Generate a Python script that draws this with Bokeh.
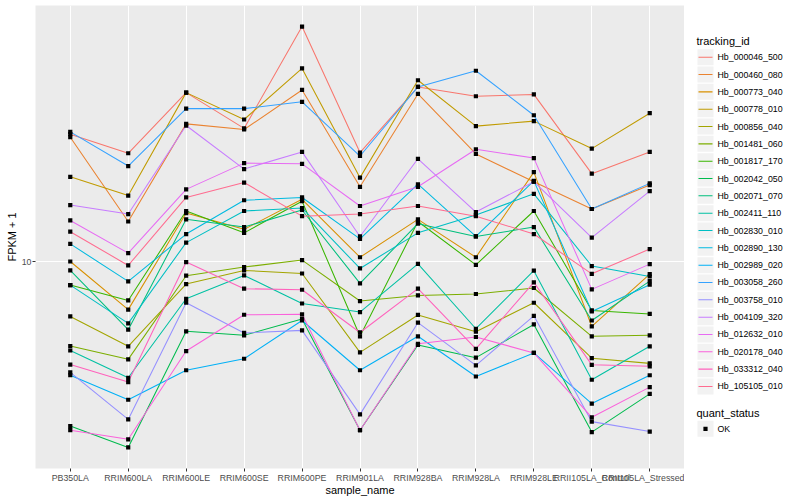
import math
from bokeh.plotting import figure
from bokeh.models import Range1d, FactorRange, FixedTicker, BasicTickFormatter
from bokeh.layouts import row
from bokeh.embed import file_html
from bokeh.resources import INLINE
from bokeh.core.properties import value

samples = ["PB350LA", "RRIM600LA", "RRIM600LE", "RRIM600SE", "RRIM600PE", "RRIM901LA",
           "RRIM928BA", "RRIM928LA", "RRIM928LE", "RRII105LA_Control", "RRII105LA_Stressed"]

tracking_ids = ["Hb_000046_500", "Hb_000460_080", "Hb_000773_040", "Hb_000778_010", "Hb_000856_040",
                "Hb_001481_060", "Hb_001817_170", "Hb_002042_050", "Hb_002071_070", "Hb_002411_110",
                "Hb_002830_010", "Hb_002890_130", "Hb_002989_020", "Hb_003058_260", "Hb_003758_010",
                "Hb_004109_320", "Hb_012632_010", "Hb_020178_040", "Hb_033312_040", "Hb_105105_010"]

colors = ["#F8766D", "#EA8331", "#D89000", "#C09B00", "#A3A500", "#7CAE00", "#39B600", "#00BB4E",
          "#00BF7D", "#00C1A3", "#00BFC4", "#00BAE0", "#00B0F6", "#35A2FF", "#9590FF", "#C77CFF",
          "#E76BF3", "#FA62DB", "#FF62BC", "#FF6C90"]

# FPKM + 1 values, one list per gene, in the order of `samples`
hb_000046_500 = [24.2, 21.2, 32.3, 25.2, 51.1, 21.3, 33.6, 31.5, 31.9, 18.4, 21.4]
hb_000460_080 = [23.7, 13.2, 26.0, 25.0, 32.9, 16.8, 32.0, 21.1, 17.4, 14.4, 17.0]
hb_000773_040 = [10.0, 7.16, 14.0, 12.5, 15.4, 10.3, 13.4, 10.3, 18.6, 6.37, 9.16]
hb_000778_010 = [18.0, 15.8, 32.3, 26.8, 38.2, 17.9, 35.2, 25.6, 26.5, 21.9, 28.0]
hb_000856_040 = [6.83, 5.55, 8.55, 9.40, 9.20, 5.32, 6.90, 6.14, 7.51, 5.11, 4.93]
hb_001481_060 = [5.56, 5.07, 9.06, 9.62, 10.1, 7.60, 7.90, 7.98, 8.32, 5.95, 5.99]
hb_001817_170 = [8.49, 7.63, 14.2, 12.2, 15.2, 5.95, 13.2, 9.77, 14.2, 7.12, 6.95]
hb_002042_050 = [3.19, 2.75, 6.16, 5.99, 6.71, 3.10, 5.60, 5.13, 6.46, 3.06, 3.99]
hb_002071_070 = [9.40, 6.23, 13.4, 12.7, 14.3, 8.59, 13.0, 11.9, 12.7, 6.64, 8.73]
hb_002411_110 = [5.39, 4.46, 7.72, 9.08, 7.47, 7.04, 9.84, 6.27, 9.38, 4.40, 5.55]
hb_002830_010 = [8.49, 6.51, 11.4, 14.2, 14.5, 9.53, 12.2, 13.8, 16.0, 9.69, 9.01]
hb_002890_130 = [11.3, 8.71, 12.1, 15.3, 15.6, 11.7, 17.1, 11.9, 17.5, 7.07, 8.51]
hb_002989_020 = [4.54, 3.83, 4.70, 5.09, 6.64, 4.70, 5.95, 4.50, 5.30, 3.73, 4.54]
hb_003058_260 = [24.6, 19.4, 28.9, 28.9, 30.3, 20.8, 33.6, 37.6, 27.6, 14.4, 17.2]
hb_003758_010 = [4.63, 3.34, 7.51, 6.09, 6.20, 3.46, 6.54, 4.86, 6.86, 3.29, 3.07]
hb_004109_320 = [14.8, 13.9, 25.7, 19.0, 21.4, 11.9, 20.4, 14.1, 17.4, 11.8, 16.3]
hb_012632_010 = [13.3, 10.6, 16.5, 19.8, 19.7, 14.7, 16.8, 21.8, 20.5, 8.24, 9.82]
hb_020178_040 = [3.10, 2.91, 5.37, 6.91, 6.93, 3.10, 5.65, 5.92, 5.30, 3.39, 4.18]
hb_033312_040 = [4.89, 4.33, 9.96, 8.28, 8.22, 6.11, 8.28, 5.45, 8.65, 4.88, 4.83]
hb_105105_010 = [12.3, 9.73, 15.6, 17.3, 13.7, 13.9, 14.7, 13.7, 12.1, 9.18, 10.9]

series = [hb_000046_500, hb_000460_080, hb_000773_040, hb_000778_010, hb_000856_040,
          hb_001481_060, hb_001817_170, hb_002042_050, hb_002071_070, hb_002411_110,
          hb_002830_010, hb_002890_130, hb_002989_020, hb_003058_260, hb_003758_010,
          hb_004109_320, hb_012632_010, hb_020178_040, hb_033312_040, hb_105105_010]

quant_status = ["OK"]
y_breaks = [10]

FONT = "Liberation Sans"
TOP = 5
FRAME_H = 463

allv = [v for s in series for v in s]
lo, hi = math.log10(min(allv)), math.log10(max(allv))
pad = 0.05 * (hi - lo)

p = figure(frame_width=649, frame_height=FRAME_H, title=None,
           x_range=FactorRange(factors=samples, range_padding=0.1, range_padding_units="absolute"),
           y_range=Range1d(10 ** (lo - pad), 10 ** (hi + pad)),
           y_axis_type="log", output_backend="svg", toolbar_location=None,
           min_border_left=35, min_border_right=0, min_border_top=TOP, min_border_bottom=28)
p.background_fill_color = "#EBEBEB"
p.border_fill_color = "white"
p.outline_line_color = None

p.xgrid.grid_line_color = "white"
p.xgrid.grid_line_width = 1.1
p.ygrid.ticker = FixedTicker(ticks=y_breaks, minor_ticks=[])
p.ygrid.grid_line_color = "white"
p.ygrid.grid_line_width = 1.1
p.ygrid.minor_grid_line_color = None

for ax in (p.xaxis[0], p.yaxis[0]):
    ax.axis_line_color = None
    ax.major_tick_line_color = "#333333"
    ax.major_tick_out = 3
    ax.major_tick_in = 0
    ax.minor_tick_line_color = None
    ax.major_label_text_font = FONT
    ax.major_label_text_font_size = "8.8px"
    ax.major_label_text_color = "#4D4D4D"
    ax.axis_label_text_font = FONT
    ax.axis_label_text_font_size = "11px"
    ax.axis_label_text_font_style = "normal"
    ax.axis_label_text_color = "black"
    ax.major_label_standoff = 1
    ax.axis_label_standoff = 1

p.xaxis[0].axis_label = "sample_name"
p.xaxis[0].axis_label_standoff = -2
p.yaxis[0].axis_label = "FPKM + 1"
p.yaxis[0].ticker = FixedTicker(ticks=y_breaks, minor_ticks=[])
p.yaxis[0].formatter = BasicTickFormatter()
p.yaxis[0].major_label_overrides = {10: "10"}

for vals, col in zip(series, colors):
    p.line(samples, vals, line_color=col, line_width=1.05)
for vals in series:
    p.scatter(samples, vals, marker="square", size=4.2, fill_color="black", line_color=None)

# legend panel (coordinates in pixels of the whole picture)
LX0, LW = 684, 116
lg = figure(frame_width=LW, frame_height=FRAME_H, title=None,
            x_range=Range1d(LX0, LX0 + LW), y_range=Range1d(TOP + FRAME_H, TOP),
            output_backend="svg", toolbar_location=None,
            min_border_left=0, min_border_right=0, min_border_top=TOP, min_border_bottom=28,
            x_axis_location=None, y_axis_location=None)
lg.outline_line_color = None
lg.grid.visible = False
lg.background_fill_color = "white"
lg.border_fill_color = "white"

step = 17.33
ys = [56.7 + i * step for i in range(len(tracking_ids))]
n = len(ys)
lg.text(x=[696], y=[40.7], text=["tracking_id"], text_font=value(FONT), text_font_size="11px",
        text_baseline="middle", text_color="black")
lg.rect(x=[705] * n, y=ys, width=16, height=16, fill_color="#F2F2F2", line_color=None)
lg.segment(x0=[698] * n, x1=[712] * n, y0=ys, y1=ys, line_color=colors, line_width=1.05)
lg.text(x=[717] * n, y=ys, text=tracking_ids, text_font=value(FONT), text_font_size="8.8px",
        text_baseline="middle", text_color="black")

qy = 428.3
lg.text(x=[696], y=[412], text=["quant_status"], text_font=value(FONT), text_font_size="11px",
        text_baseline="middle", text_color="black")
lg.rect(x=[705], y=[qy], width=16, height=16, fill_color="#F2F2F2", line_color=None)
lg.scatter(x=[705], y=[qy], marker="square", size=4.2, fill_color="black", line_color=None)
lg.text(x=[717], y=[qy], text=quant_status, text_font=value(FONT), text_font_size="8.8px",
        text_baseline="middle", text_color="black")

layout = row(p, lg, spacing=0)
open("out.html", "w").write(file_html(layout, INLINE))
